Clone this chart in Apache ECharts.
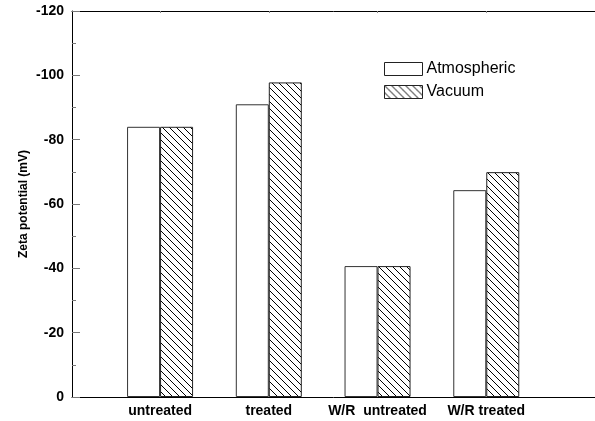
<!DOCTYPE html>
<html>
<head>
<meta charset="utf-8">
<script src="https://cdn.jsdelivr.net/npm/echarts@6/dist/echarts.min.js"></script>
<style>
  html, body { margin: 0; padding: 0; background: #fff; }
  #chart { width: 595px; height: 421px; }
</style>
</head>
<body>
<div id="chart"></div>
<script>
// Sample groups along the x axis
const categories = ['untreated', 'treated', 'W/R  untreated', 'W/R treated'];
// Zeta potential (mV) for each drying condition
const atmospheric = [-84.0, -91.0, -40.7, -64.3];
const vacuum = [-84.0, -97.8, -40.7, -69.9];
// Y axis range and step
const yTicks = { min: -120, max: 0, step: 20 };

// Positions of the groups on the x scale: 1, 2, 3, 4
const positions = categories.map((_, i) => i + 1);

// Diagonal hatch fill for the vacuum bars
function hatchPattern() {
  const s = 7;
  const c = document.createElement('canvas');
  c.width = s; c.height = s;
  const g = c.getContext('2d');
  g.fillStyle = '#fff';
  g.fillRect(0, 0, s, s);
  g.strokeStyle = '#000';
  g.lineWidth = 1;
  g.beginPath();
  g.moveTo(-1, -1); g.lineTo(s + 1, s + 1);
  g.moveTo(-1, s - 1); g.lineTo(1, s + 1);
  g.moveTo(s - 1, -1); g.lineTo(s + 1, 1);
  g.stroke();
  return { image: c, repeat: 'repeat' };
}

const chart = echarts.init(document.getElementById('chart'), null, { renderer: 'canvas' });
const font = '"Liberation Sans", Arial, sans-serif';

chart.setOption({
  animation: false,
  backgroundColor: '#fff',
  grid: { left: 72, right: 0, top: 11, bottom: 24, containLabel: false },
  legend: {
    orient: 'vertical',
    left: 384,
    top: 61,
    padding: 0,
    itemWidth: 38,
    itemHeight: 13,
    itemGap: 7,
    icon: 'rect',
    itemStyle: { borderWidth: 1, borderColor: '#222' },
    textStyle: { fontFamily: font, fontSize: 16, color: '#000', padding: [0, 0, 0, -1] },
    data: ['Atmospheric', 'Vacuum']
  },
  xAxis: [
    {
      type: 'value',
      min: 0.19,
      max: 5,
      position: 'bottom',
      splitLine: { show: false },
      axisLine: { show: true, lineStyle: { color: '#000', width: 1 } },
      axisTick: { show: false },
      axisLabel: {
        customValues: positions,
        formatter: v => categories[Math.round(v) - 1] || '',
        fontFamily: font,
        fontSize: 14,
        fontWeight: 'bold',
        color: '#000',
        margin: 7
      }
    },
    {
      type: 'value',
      min: 0.19,
      max: 5,
      position: 'top',
      splitLine: { show: false },
      axisLine: { show: true, onZero: false, lineStyle: { color: '#000', width: 1 } },
      axisTick: { show: true, inside: true, length: 2, customValues: positions, lineStyle: { color: '#888' } },
      axisLabel: { show: false }
    }
  ],
  yAxis: {
    type: 'value',
    inverse: true,
    min: yTicks.min,
    max: yTicks.max,
    interval: yTicks.step,
    name: 'Zeta potential (mV)',
    nameLocation: 'middle',
    nameGap: 42,
    nameMoveOverlap: false,
    nameRotate: 90,
    nameTextStyle: { fontFamily: font, fontSize: 12, fontWeight: 'bold', color: '#000' },
    splitLine: { show: false },
    axisLine: { show: true, onZero: false, lineStyle: { color: '#000', width: 1 } },
    axisTick: { show: true, inside: true, length: 8, lineStyle: { color: '#777' } },
    minorTick: { show: true, splitNumber: 2, length: 4, lineStyle: { color: '#777' } },
    axisLabel: {
      fontFamily: font,
      fontSize: 14,
      fontWeight: 'bold',
      color: '#000',
      margin: 8
    }
  },
  series: [
    {
      name: 'Atmospheric',
      type: 'bar',
      xAxisIndex: 0,
      barWidth: 33,
      barGap: '0%',
      data: positions.map((p, i) => [p, atmospheric[i]]),
      itemStyle: { color: '#fff', borderColor: '#333', borderWidth: 1 }
    },
    {
      name: 'Vacuum',
      type: 'bar',
      xAxisIndex: 0,
      barWidth: 33,
      barGap: '0%',
      data: positions.map((p, i) => [p, vacuum[i]]),
      itemStyle: { color: hatchPattern(), borderColor: '#222', borderWidth: 1 }
    }
  ]
});
</script>
</body>
</html>
